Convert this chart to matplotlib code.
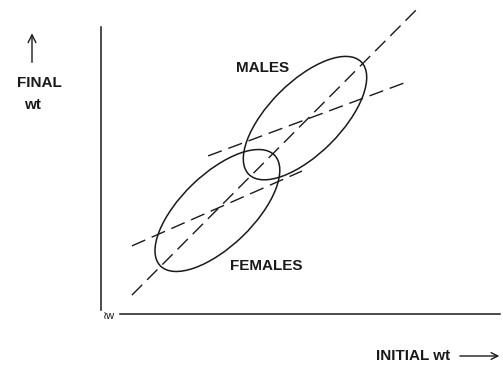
# Lord's paradox sketch: initial vs final weight, males vs females
import matplotlib
matplotlib.use("Agg")
import matplotlib.pyplot as plt
from matplotlib.patches import Ellipse

plt.rcParams["font.family"] = ["Liberation Sans", "DejaVu Sans"]
plt.rcParams["lines.scale_dashes"] = False

# group distributions (centre, half axes, tilt in degrees)
groups = ["MALES", "FEMALES"]
centre_x = [68.0, 38.8]
centre_y = [65.3, 34.5]
half_major = [26.5, 26.5]
half_minor = [12.0, 12.0]
tilt = [45, 44]

# regression lines within groups: x span, slope, anchor
reg_x0 = [35.7, 10.3]
reg_x1 = [101.0, 67.0]
reg_y0 = [52.7, 22.7]
reg_slope = [0.372, 0.44]

# identity-like line (no change)
diag_x = [10.3, 106.0]
diag_y = [6.3, 102.3]

label_xy = [(53.7, 82.0), (55.0, 16.0)]

DASH = (10.5, 5.0)
INK = "#1a1a1a"

fig = plt.figure(figsize=(5.03, 3.65), dpi=100)
ax = fig.add_axes([101 / 503, 51 / 365, 399 / 503, 287 / 365])
ax.set_xlim(0, 133)
ax.set_ylim(0, 95.67)
ax.axis("off")

# axes drawn by hand
ax.plot([0, 0], [1.3, 95.67], color=INK, lw=1.1, clip_on=False)
ax.plot([6.3, 133], [0, 0], color=INK, lw=1.1, clip_on=False)
ax.text(0.6, -0.6, "≀w", fontsize=8, color=INK, ha="left", va="center")

for i, g in enumerate(groups):
    e = Ellipse((centre_x[i], centre_y[i]), 2 * half_major[i], 2 * half_minor[i],
                angle=tilt[i], fill=False, edgecolor=INK, lw=1.1)
    ax.add_patch(e)
    xs = [reg_x0[i], reg_x1[i]]
    ys = [reg_y0[i], reg_y0[i] + reg_slope[i] * (reg_x1[i] - reg_x0[i])]
    ax.plot(xs, ys, color=INK, lw=1.0, dashes=DASH, clip_on=False)
    ax.text(label_xy[i][0], label_xy[i][1], g, fontsize=11, color=INK,
            fontweight="bold", ha="center", va="center")

ax.plot(diag_x, diag_y, color=INK, lw=1.0, dashes=DASH, clip_on=False)

# axis captions
ax.annotate("", xy=(-23.0, 94.5), xytext=(-23.0, 83.0),
            arrowprops=dict(arrowstyle="->", color=INK, lw=1.0,
                            mutation_scale=14),
            annotation_clip=False)
ax.text(-20.7, 77.0, "FINAL", fontsize=11, color=INK, fontweight="bold",
        ha="center", va="center")
ax.text(-23.0, 69.7, "wt", fontsize=11, color=INK, fontweight="bold",
        ha="center", va="center")

ax.text(104.0, -14.0, "INITIAL wt", fontsize=11, color=INK, fontweight="bold",
        ha="center", va="center")
ax.annotate("", xy=(133.7, -14.0), xytext=(118.7, -14.0),
            arrowprops=dict(arrowstyle="->", color=INK, lw=1.0,
                            mutation_scale=12),
            annotation_clip=False)

fig.savefig("out.png", dpi=100, facecolor="white")
